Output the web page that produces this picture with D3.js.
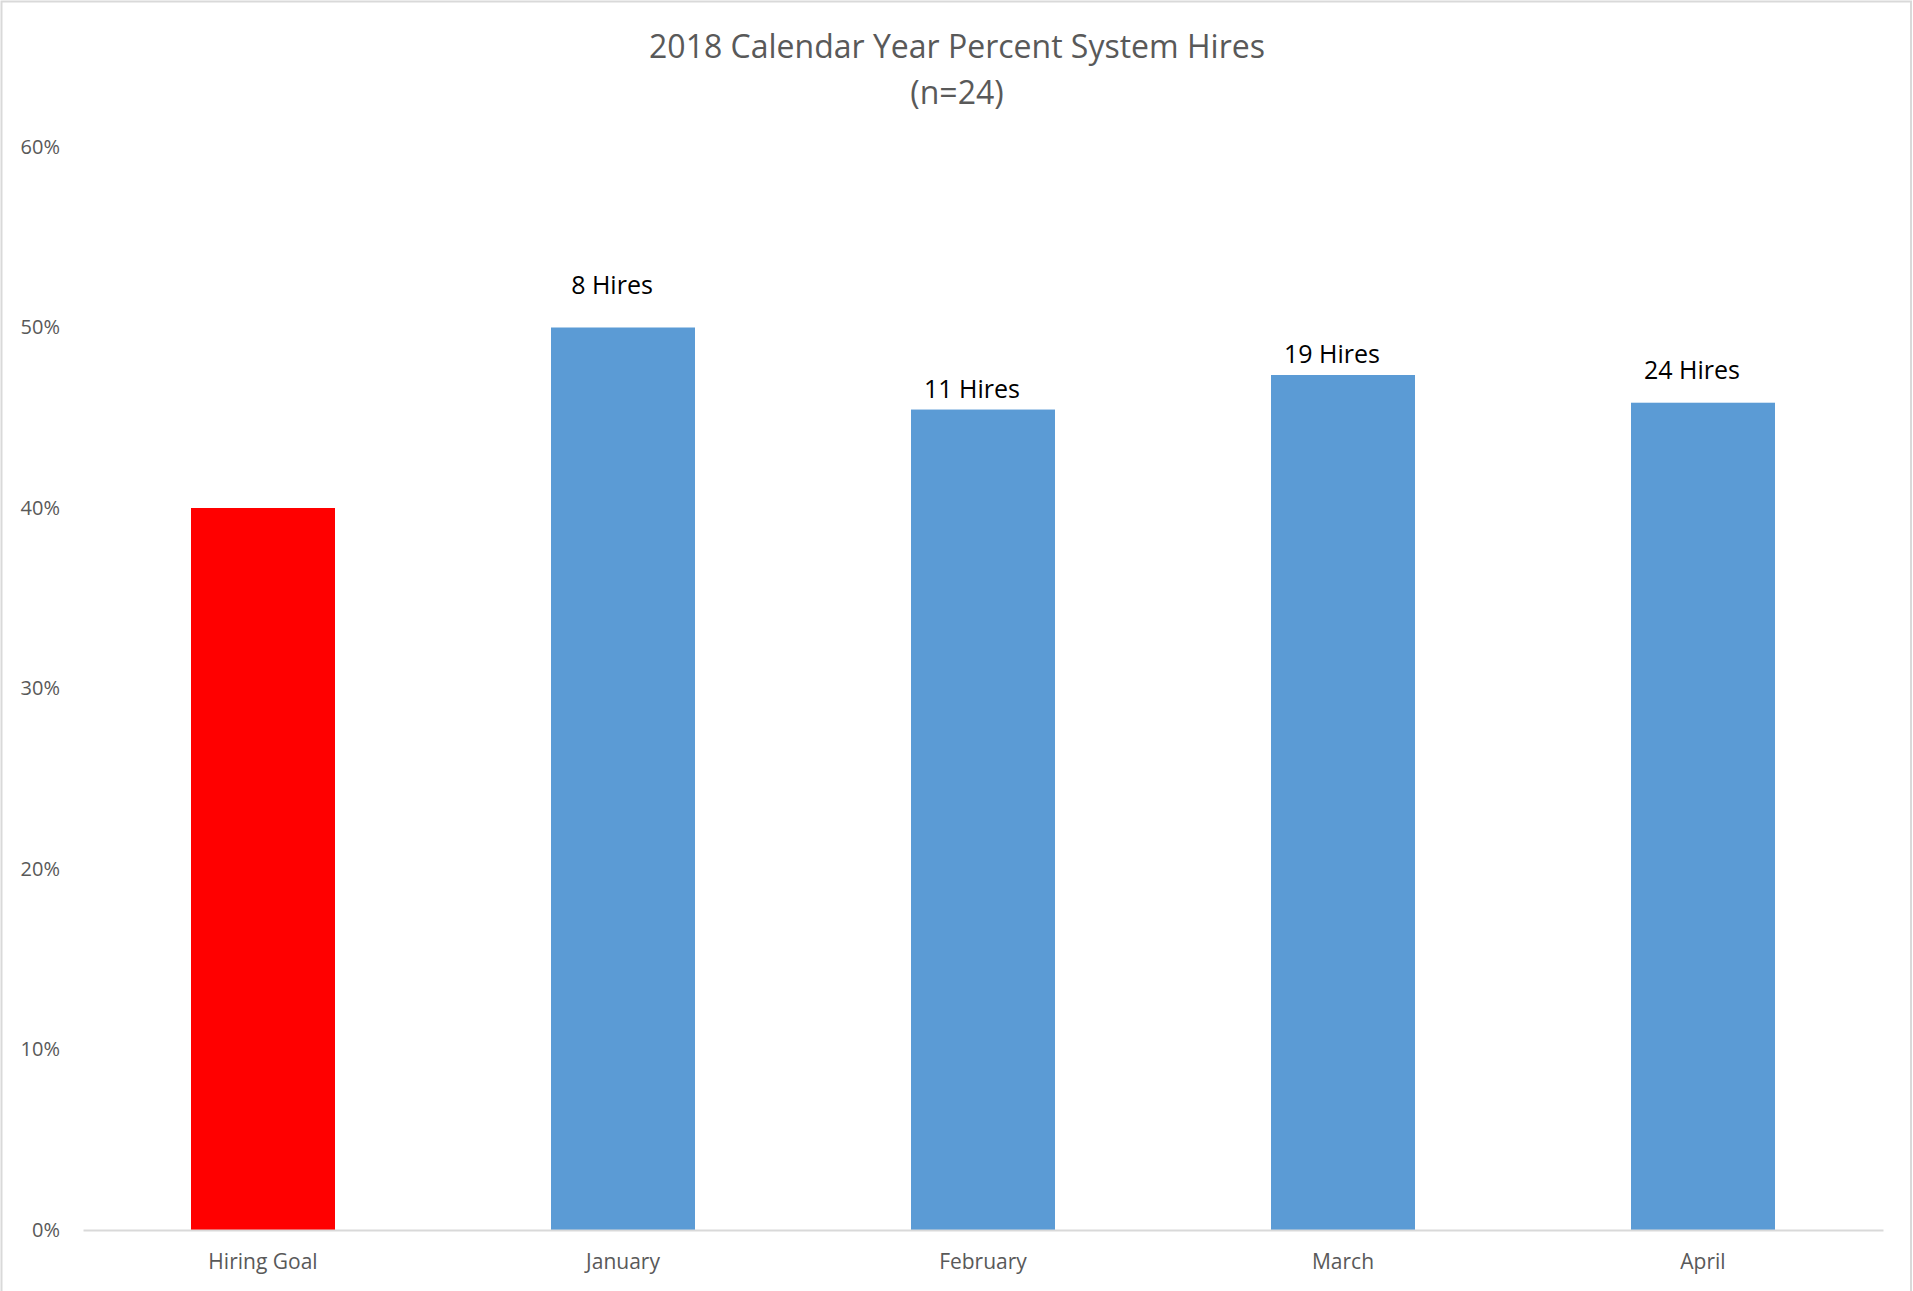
<!DOCTYPE html>
<html>
<head>
<meta charset="utf-8">
<script src="https://cdn.jsdelivr.net/npm/d3@7/dist/d3.min.js"></script>
<style>
  html, body { margin: 0; padding: 0; background: #ffffff; }
  svg { display: block; }
  text { font-family: "Open Sans", "Noto Sans", sans-serif; }
</style>
</head>
<body>
<svg id="chart" width="1913" height="1291"></svg>
<script>
// Share of hires through the system, by period
const categories = ["Hiring Goal", "January", "February", "March", "April"];
const hireShare  = [0.40, 8 / 16, 5 / 11, 9 / 19, 11 / 24];
const hireLabels = [null, "8 Hires", "11 Hires", "19 Hires", "24 Hires"];
const yTicks     = [0, 0.1, 0.2, 0.3, 0.4, 0.5, 0.6];
const titleLines = ["2018 Calendar Year Percent System Hires", "(n=24)"];

const W = 1913, H = 1291;
const margin = { top: 147, right: 30, bottom: 61, left: 83 };

const svg = d3.select("#chart");

// chart frame
svg.append("rect")
  .attr("x", 1.5).attr("y", 1.5)
  .attr("width", W - 3.5).attr("height", H + 10)
  .attr("fill", "#ffffff")
  .attr("stroke", "#d9d9d9").attr("stroke-width", 2);

const x = d3.scaleBand()
  .domain(categories)
  .range([margin.left, W - margin.right])
  .paddingInner(0.6)
  .paddingOuter(0.3);

const y = d3.scaleLinear()
  .domain([0, 0.6])
  .range([H - margin.bottom, margin.top]);

// title
svg.append("g").selectAll("text")
  .data(titleLines)
  .join("text")
  .attr("x", 957)
  .attr("y", (d, i) => 58 + i * 46)
  .attr("text-anchor", "middle")
  .attr("fill", "#595959")
  .attr("font-size", 32)
  .text(d => d);

// y axis labels (no axis line or ticks)
const yAxis = svg.append("g")
  .attr("transform", `translate(${margin.left - 23},0)`)
  .call(d3.axisLeft(y).tickValues(yTicks).tickFormat(d3.format(".0%")).tickSize(0).tickPadding(0));
yAxis.select(".domain").remove();
yAxis.selectAll("text")
  .attr("fill", "#595959")
  .attr("font-size", 20)
  .attr("font-family", "\"Open Sans\", sans-serif");

// bars
const barColor = (d, i) => i === 0 ? "#ff0000" : "#5b9bd5";
svg.append("g").selectAll("rect")
  .data(categories)
  .join("rect")
  .attr("x", d => x(d))
  .attr("width", x.bandwidth())
  .attr("y", (d, i) => y(hireShare[i]))
  .attr("height", (d, i) => y(0) - y(hireShare[i]))
  .attr("fill", barColor);

// baseline and category labels
const xAxis = svg.append("g")
  .attr("transform", `translate(0,${y(0)})`)
  .call(d3.axisBottom(x).tickSize(0).tickPadding(24));
xAxis.select(".domain")
  .attr("stroke", "#d9d9d9").attr("stroke-width", 2);
xAxis.selectAll("text")
  .attr("fill", "#595959")
  .attr("font-size", 21)
  .attr("font-family", "\"Open Sans\", sans-serif");

// hire-count labels above the bars (hand-placed lift above each bar top)
const labelLift = [0, 34, 12, 12, 24];
svg.append("g").selectAll("text")
  .data(categories.map((c, i) => ({ c, i })).filter(d => hireLabels[d.i]))
  .join("text")
  .attr("x", d => x(d.c) + x.bandwidth() / 2 - 11)
  .attr("y", d => y(hireShare[d.i]) - labelLift[d.i])
  .attr("text-anchor", "middle")
  .attr("fill", "#000000")
  .attr("font-size", 25)
  .text(d => hireLabels[d.i]);
</script>
</body>
</html>
